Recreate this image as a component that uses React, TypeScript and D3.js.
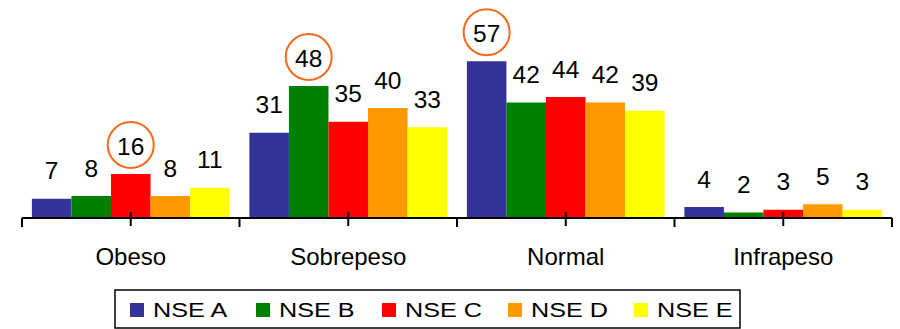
import React, { useEffect, useRef } from "react";
import * as d3 from "d3";

const categories = ["Obeso", "Sobrepeso", "Normal", "Infrapeso"];
const series = ["NSE A", "NSE B", "NSE C", "NSE D", "NSE E"];
const colors = ["#333399", "#008000", "#ff0000", "#ff9900", "#ffff00"];
// values per category, in series order
const obeso = [7, 8, 16, 8, 11];
const sobrepeso = [31, 48, 35, 40, 33];
const normal = [57, 42, 44, 42, 39];
const infrapeso = [4, 2, 3, 5, 3];
// circled labels: [category, series]
const highlighted = [
  ["Obeso", "NSE C"],
  ["Sobrepeso", "NSE B"],
  ["Normal", "NSE A"],
];

const W = 900,
  H = 329;

export default function App() {
  const svgRef = useRef<SVGSVGElement>(null);

  useEffect(() => {
    const svg = d3.select(svgRef.current);
    svg.selectChildren().remove();

    const rows = [obeso, sobrepeso, normal, infrapeso];
    const font = "'Liberation Sans', Arial, sans-serif";

    const x0 = d3.scaleBand().domain(categories).range([22, 892]).padding(0);
    const x1 = d3
      .scaleBand()
      .domain(series)
      .range([0, x0.bandwidth()])
      .paddingInner(0)
      .paddingOuter(0.25);
    const y = d3.scaleLinear().domain([0, 60]).range([218, 53]);

    const groups = svg
      .append("g")
      .selectAll("g")
      .data(categories)
      .enter()
      .append("g")
      .attr("transform", (c) => `translate(${x0(c)},0)`);

    const cells = (c: string, i: number) =>
      rows[i].map((v, j) => ({ c, s: series[j], v, j }));

    groups
      .selectAll("rect")
      .data(cells)
      .enter()
      .append("rect")
      .attr("x", (d) => x1(d.s) as number)
      .attr("width", x1.bandwidth())
      .attr("y", (d) => y(d.v))
      .attr("height", (d) => y(0) - y(d.v))
      .attr("fill", (d) => colors[d.j]);

    groups
      .selectAll("text")
      .data(cells)
      .enter()
      .append("text")
      .attr("x", (d) => (x1(d.s) as number) + x1.bandwidth() / 2)
      .attr("y", (d) => y(d.v) - 28)
      .attr("dy", "0.35em")
      .attr("text-anchor", "middle")
      .attr("font-family", font)
      .attr("font-size", 24.5)
      .attr("fill", "#000")
      .text((d) => d.v);

    groups
      .selectAll("circle")
      .data((c, i) =>
        cells(c, i).filter((d) =>
          highlighted.some((h) => h[0] === d.c && h[1] === d.s)
        )
      )
      .enter()
      .append("circle")
      .attr("cx", (d) => (x1(d.s) as number) + x1.bandwidth() / 2)
      .attr("cy", (d) => y(d.v) - 29)
      .attr("r", 23)
      .attr("fill", "none")
      .attr("stroke", "#f26b1d")
      .attr("stroke-width", 2);

    // axis
    const axis = svg.append("g");
    axis
      .append("line")
      .attr("x1", 22)
      .attr("x2", 892)
      .attr("y1", y(0))
      .attr("y2", y(0))
      .attr("stroke", "#000")
      .attr("stroke-width", 2);
    const bounds = categories.map((c) => x0(c) as number).concat([892]);
    axis
      .selectAll("line.b")
      .data(bounds)
      .enter()
      .append("line")
      .attr("class", "b")
      .attr("x1", (d) => d)
      .attr("x2", (d) => d)
      .attr("y1", y(0))
      .attr("y2", y(0) + 9)
      .attr("stroke", "#000")
      .attr("stroke-width", 2);
    axis
      .selectAll("line.m")
      .data(categories)
      .enter()
      .append("line")
      .attr("class", "m")
      .attr("x1", (c) => (x0(c) as number) + x0.bandwidth() / 2)
      .attr("x2", (c) => (x0(c) as number) + x0.bandwidth() / 2)
      .attr("y1", y(0) - 6)
      .attr("y2", y(0) + 8)
      .attr("stroke", "#000")
      .attr("stroke-width", 2);
    axis
      .selectAll("text")
      .data(categories)
      .enter()
      .append("text")
      .attr("x", (c) => (x0(c) as number) + x0.bandwidth() / 2)
      .attr("y", 257)
      .attr("dy", "0.35em")
      .attr("text-anchor", "middle")
      .attr("font-family", font)
      .attr("font-size", 24)
      .attr("fill", "#000")
      .text((c) => c);

    // legend
    const legend = svg.append("g");
    legend
      .append("rect")
      .attr("x", 115)
      .attr("y", 290)
      .attr("width", 625)
      .attr("height", 38)
      .attr("fill", "#fff")
      .attr("stroke", "#000")
      .attr("stroke-width", 1.5);
    const item = legend
      .selectAll("g")
      .data(series)
      .enter()
      .append("g")
      .attr("transform", (s, i) => `translate(${130 + i * 126},0)`);
    item
      .append("rect")
      .attr("x", 0)
      .attr("y", 303)
      .attr("width", 14)
      .attr("height", 14)
      .attr("fill", (s, i) => colors[i]);
    item
      .append("text")
      .attr("transform", "translate(23,310) scale(1.2,1)")
      .attr("dy", "0.35em")
      .attr("font-family", font)
      .attr("font-size", 21)
      .attr("fill", "#000")
      .text((s) => s);
  }, []);

  return (
    <svg
      ref={svgRef}
      width={W}
      height={H}
      style={{ position: "absolute", left: 0, top: 0, background: "#fff" }}
    />
  );
}
